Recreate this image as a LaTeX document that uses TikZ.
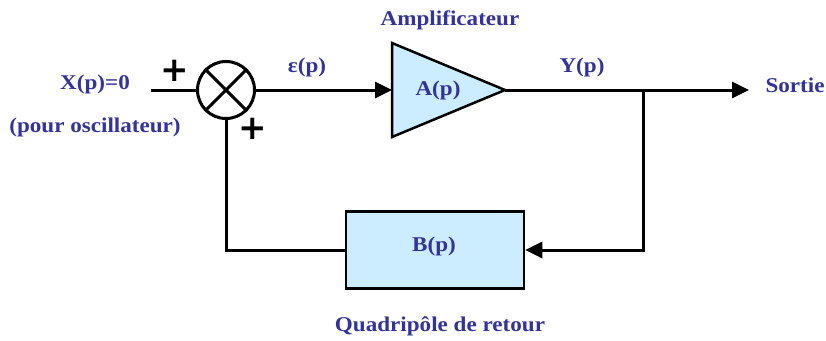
\documentclass[tikz,border=0pt]{standalone}
\usepackage{fontspec}
\setmainfont{Liberation Serif}[FakeStretch=1.1]
\newfontfamily\plusfont{DejaVu Sans}
\usetikzlibrary{arrows.meta}
\definecolor{txtblue}{RGB}{51,51,153}
\definecolor{boxblue}{RGB}{204,236,255}
\begin{document}
\begin{tikzpicture}[x=1pt,y=-1pt,
  wire/.style={line width=3pt},
  arr/.style={wire,-{Triangle[length=17pt,width=16pt]}},
  lbl/.style={text=txtblue,font=\fontsize{21}{23}\selectfont\bfseries,inner sep=0pt},
  plussign/.style={font=\plusfont\fontsize{34}{34}\selectfont\bfseries,inner sep=0pt},
  blk/.style={draw,line width=2.5pt,fill=boxblue}]
\useasboundingbox (0,0) rectangle (826,340);
% summing junction
\node[draw,circle,line width=3pt,minimum size=57pt,inner sep=0pt] (sum) at (226,90) {};
\draw[line width=3pt] (sum.45) -- (sum.225) (sum.135) -- (sum.315);
% amplifier
\draw[blk] (392,43) -- (505,90) -- (392,137) -- cycle;
\coordinate (ampin) at (392,90);
\coordinate (ampout) at (505,90);
\node[lbl] (A) at (438,90) {A(p)};
% feedback block
\node[blk,minimum width=178pt,minimum height=77pt,inner sep=0pt] (B) at (435,250) {};
\node[lbl] (Bt) at (434,246) {B(p)};
% coordinates
\coordinate (in) at (151,90);
\coordinate (split) at (643,90);
\coordinate (out) at (749,90);
% wires
\draw[wire] (in) -- (sum.west);
\draw[arr] (sum.east) -- (ampin);
\draw[wire] (ampout) -- (split);
\draw[arr] (split) -- (out);
\draw[arr] (split) |- (B.east);
\draw[wire] (B.west) -| (sum.south);
% labels
\node[lbl] (x) at (95,84) {X(p)=0};
\node[lbl] (po) at (95,127) {(pour oscillateur)};
\node[lbl] (eps) at (307,67) {ε(p)};
\node[lbl] (amp) at (450,20) {Amplificateur};
\node[lbl] (y) at (582,67) {Y(p)};
\node[lbl] (s) at (795,85) {Sortie};
\node[lbl] (q) at (440,326) {Quadripôle de retour};
\node[plussign] (p1) at (175,71) {+};
\node[plussign] (p2) at (253,129) {+};
\end{tikzpicture}
\end{document}
